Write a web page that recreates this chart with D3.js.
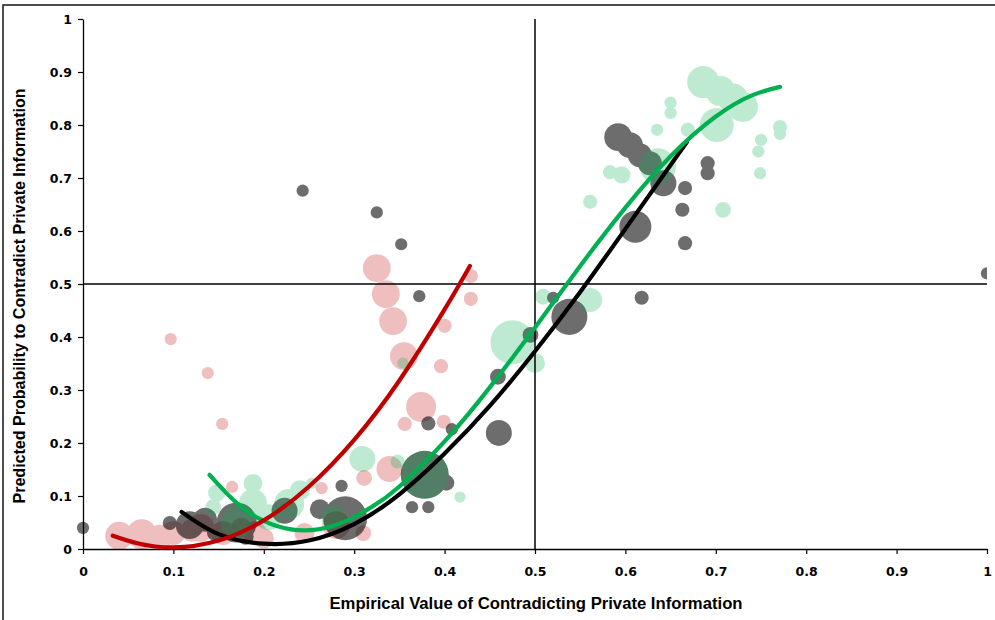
<!DOCTYPE html>
<html>
<head>
<meta charset="utf-8">
<script src="https://cdn.jsdelivr.net/npm/d3@7"></script>
<style>
  html, body { margin: 0; padding: 0; background: #fff; }
  svg { display: block; }
</style>
</head>
<body>
<svg id="chart" width="995" height="620"></svg>
<script>
// Bubble series: [empirical value, predicted probability, bubble size]
const redBubbles = [
  [0.040, 0.025, 31], [0.065, 0.028, 36], [0.085, 0.022, 25], [0.100, 0.030, 23],
  [0.120, 0.035, 20], [0.130, 0.040, 31], [0.155, 0.030, 23], [0.175, 0.040, 16],
  [0.190, 0.030, 23], [0.200, 0.020, 16], [0.245, 0.030, 16], [0.280, 0.045, 31],
  [0.310, 0.030, 10],
  [0.097, 0.396, 6], [0.138, 0.332, 6], [0.154, 0.236, 6], [0.165, 0.117, 6],
  [0.264, 0.115, 6], [0.311, 0.134, 10], [0.339, 0.151, 27], [0.356, 0.236, 8],
  [0.399, 0.240, 8], [0.374, 0.268, 36], [0.355, 0.364, 31], [0.343, 0.430, 31],
  [0.335, 0.481, 31], [0.325, 0.530, 31], [0.396, 0.345, 8], [0.400, 0.421, 8],
  [0.429, 0.472, 8], [0.429, 0.515, 8]
];

const blackBubbles = [
  [0.000, 0.040, 6], [0.243, 0.676, 6], [0.325, 0.635, 6], [0.352, 0.575, 6],
  [0.372, 0.477, 6], [1.000, 0.520, 6], [0.382, 0.237, 8], [0.408, 0.226, 6],
  [0.460, 0.219, 27], [0.286, 0.119, 6], [0.364, 0.079, 6], [0.382, 0.079, 6],
  [0.378, 0.140, 92], [0.402, 0.125, 10], [0.290, 0.058, 77], [0.223, 0.072, 27],
  [0.262, 0.075, 16], [0.170, 0.050, 64], [0.118, 0.045, 31], [0.135, 0.055, 23],
  [0.096, 0.049, 8], [0.148, 0.032, 16], [0.180, 0.023, 10],
  [0.459, 0.325, 10], [0.495, 0.404, 10], [0.538, 0.438, 52], [0.520, 0.474, 6],
  [0.592, 0.777, 31], [0.605, 0.762, 27], [0.616, 0.743, 23], [0.627, 0.728, 23],
  [0.642, 0.690, 27], [0.666, 0.681, 8], [0.663, 0.640, 8], [0.666, 0.577, 8],
  [0.611, 0.608, 41], [0.618, 0.474, 8], [0.691, 0.728, 8], [0.691, 0.709, 8]
];

const greenBubbles = [
  [0.144, 0.079, 10], [0.148, 0.106, 12], [0.188, 0.124, 14], [0.188, 0.087, 31],
  [0.228, 0.085, 36], [0.240, 0.111, 16], [0.253, 0.124, 5], [0.309, 0.170, 27],
  [0.277, 0.060, 23], [0.205, 0.060, 27], [0.170, 0.050, 41], [0.417, 0.098, 5],
  [0.378, 0.140, 92], [0.354, 0.351, 5], [0.348, 0.165, 8],
  [0.475, 0.390, 77], [0.500, 0.351, 16], [0.509, 0.476, 10], [0.561, 0.470, 23],
  [0.561, 0.655, 8], [0.583, 0.711, 8], [0.596, 0.706, 12], [0.635, 0.791, 6],
  [0.650, 0.842, 6], [0.650, 0.823, 6], [0.669, 0.791, 8], [0.636, 0.722, 52],
  [0.701, 0.800, 46], [0.686, 0.881, 41], [0.705, 0.864, 36], [0.719, 0.850, 36],
  [0.730, 0.834, 36], [0.708, 0.640, 10], [0.750, 0.772, 6], [0.747, 0.750, 6],
  [0.749, 0.709, 6], [0.771, 0.796, 8], [0.771, 0.783, 6]
];

// Trend curves: [empirical value, predicted probability]
const redTrend = [
  [0.033, 0.025], [0.060, 0.011], [0.100, 0.003], [0.150, 0.016], [0.200, 0.054],
  [0.250, 0.118], [0.300, 0.206], [0.350, 0.318], [0.400, 0.452], [0.428, 0.534]
];
const blackTrend = [
  [0.109, 0.070], [0.150, 0.028], [0.200, 0.010], [0.250, 0.016], [0.300, 0.047],
  [0.350, 0.103], [0.400, 0.180], [0.450, 0.270], [0.500, 0.373], [0.550, 0.485],
  [0.600, 0.604], [0.668, 0.768]
];
const greenTrend = [
  [0.140, 0.140], [0.170, 0.087], [0.200, 0.053], [0.230, 0.037], [0.260, 0.037],
  [0.290, 0.052], [0.320, 0.080], [0.350, 0.118], [0.400, 0.203], [0.450, 0.305],
  [0.500, 0.418], [0.550, 0.534], [0.600, 0.644], [0.650, 0.741], [0.700, 0.816],
  [0.740, 0.856], [0.771, 0.872]
];

const xTicks = [0, 0.1, 0.2, 0.3, 0.4, 0.5, 0.6, 0.7, 0.8, 0.9, 1];
const yTicks = [0, 0.1, 0.2, 0.3, 0.4, 0.5, 0.6, 0.7, 0.8, 0.9, 1];
const xTitle = "Empirical Value of Contradicting Private Information";
const yTitle = "Predicted Probability to Contradict Private Information";

const svg = d3.select("#chart");
const plot = { left: 83, right: 987, top: 19, bottom: 549 };

const x = d3.scaleLinear().domain([0, 1]).range([plot.left, plot.right]);
const y = d3.scaleLinear().domain([0, 1]).range([plot.bottom, plot.top]);
const r = d3.scaleSqrt().domain([0, 100]).range([0, 25]);

// outer frame
svg.append("rect")
  .attr("x", 3).attr("y", 5).attr("width", 1000).attr("height", 700)
  .attr("fill", "none").attr("stroke", "#222").attr("stroke-width", 1.6);

svg.append("clipPath").attr("id", "plotClip")
  .append("rect")
  .attr("x", plot.left - 10).attr("y", plot.top - 10)
  .attr("width", plot.right - plot.left + 10).attr("height", plot.bottom - plot.top + 10);

const fmt = d => (d === 0 || d === 1) ? String(d) : d.toFixed(1);

// axes
const xAxis = svg.append("g")
  .attr("transform", `translate(0,${plot.bottom})`)
  .call(d3.axisBottom(x).tickValues(xTicks).tickFormat(fmt).tickSize(5).tickPadding(13).tickSizeOuter(0));
const yAxis = svg.append("g")
  .attr("transform", `translate(${plot.left},0)`)
  .call(d3.axisLeft(y).tickValues(yTicks).tickFormat(fmt).tickSize(5).tickPadding(6).tickSizeOuter(0));

[xAxis, yAxis].forEach(g => {
  g.select(".domain").attr("stroke", "#000").attr("stroke-width", 1.3);
  g.selectAll(".tick line").attr("stroke", "#000").attr("stroke-width", 1.2);
  g.selectAll(".tick text")
    .attr("fill", "#000")
    .style("font-family", "'DejaVu Sans', Verdana, sans-serif")
    .style("font-weight", "bold")
    .style("font-size", "12.5px");
});

const marks = svg.append("g").attr("clip-path", "url(#plotClip)");

// each series is flattened and then made translucent as one layer
function bubbles(data, color, opacity) {
  marks.append("g")
    .attr("opacity", opacity)
    .selectAll("circle")
    .data(data)
    .join("circle")
    .attr("cx", d => x(d[0]))
    .attr("cy", d => y(d[1]))
    .attr("r", d => r(d[2]))
    .attr("fill", color);
}

bubbles(redBubbles, "#C00000", 0.25);
bubbles(blackBubbles, "#000000", 0.57);
bubbles(greenBubbles, "#00B050", 0.25);

// reference lines at 0.5
svg.append("line")
  .attr("x1", x(0)).attr("x2", x(1)).attr("y1", y(0.5)).attr("y2", y(0.5))
  .attr("stroke", "#000").attr("stroke-width", 1.5);
svg.append("line")
  .attr("x1", x(0.5)).attr("x2", x(0.5)).attr("y1", y(0)).attr("y2", y(1))
  .attr("stroke", "#000").attr("stroke-width", 1.5);

const line = d3.line()
  .x(d => x(d[0]))
  .y(d => y(d[1]))
  .curve(d3.curveNatural);

function trend(data, color) {
  svg.append("path")
    .datum(data)
    .attr("d", line)
    .attr("fill", "none")
    .attr("stroke", color)
    .attr("stroke-width", 4.2)
    .attr("stroke-linecap", "round");
}

trend(blackTrend, "#000000");
trend(greenTrend, "#00B050");
trend(redTrend, "#C00000");

// axis titles
const titleFont = "'Liberation Sans Narrow', 'Liberation Sans', Arial, sans-serif";
svg.append("text")
  .attr("x", 536).attr("y", 609)
  .attr("text-anchor", "middle")
  .attr("textLength", 413).attr("lengthAdjust", "spacingAndGlyphs")
  .style("font-family", titleFont).style("font-weight", "bold").style("font-size", "16px")
  .text(xTitle);

svg.append("text")
  .attr("transform", "translate(25,296) rotate(-90)")
  .attr("text-anchor", "middle")
  .attr("textLength", 415).attr("lengthAdjust", "spacingAndGlyphs")
  .style("font-family", titleFont).style("font-weight", "bold").style("font-size", "16px")
  .text(yTitle);
</script>
</body>
</html>
